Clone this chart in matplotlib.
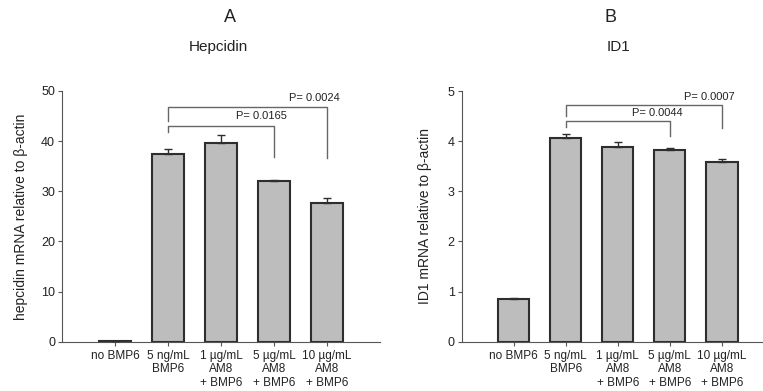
import numpy as np
import matplotlib
matplotlib.use("Agg")
import matplotlib.pyplot as plt

plt.rcParams['font.family'] = ['Liberation Sans', 'DejaVu Sans']

# categories shared by both panels
categories = ['no BMP6', '5 ng/mL\nBMP6', '1 µg/mL\nAM8\n+ BMP6',
              '5 µg/mL\nAM8\n+ BMP6', '10 µg/mL\nAM8\n+ BMP6']

# panel A - hepcidin
hepc_mean = [0.2, 37.4, 39.7, 32.0, 27.7]
hepc_err = [0.0, 1.1, 1.6, 0.15, 1.0]
hepc_pvals = ['P= 0.0165', 'P= 0.0024']

# panel B - ID1
id1_mean = [0.86, 4.07, 3.89, 3.82, 3.58]
id1_err = [0.02, 0.07, 0.09, 0.05, 0.07]
id1_pvals = ['P= 0.0044', 'P= 0.0007']

bar_col = '#bdbdbd'
edge_col = '#2e2e2e'
txt_col = '#222222'


def bracket(ax, x1, x2, y, yl, yr, lab, ty):
    ax.plot([x1, x1, x2, x2], [yl, y, y, yr], color='#666666', lw=1.0,
            clip_on=False)
    ax.text(x2 - 0.24, ty, lab, ha='center', va='center', fontsize=8,
            color=txt_col)


def panel(ax, vals, errs, ymax, ylabel):
    x = np.arange(len(vals))
    ax.bar(x, vals, width=0.6, color=bar_col, edgecolor=edge_col, lw=1.5,
           zorder=2)
    ax.errorbar(x, vals, yerr=[np.zeros(len(vals)), errs], fmt='none',
                ecolor=edge_col, elinewidth=1.0, capsize=3, capthick=1.0,
                zorder=3)
    ax.set_ylim(0, ymax)
    ax.set_yticks(np.linspace(0, ymax, 6))
    ax.set_xticks(x)
    ax.set_xticklabels(categories, fontsize=8.5, color=txt_col,
                       linespacing=1.15)
    ax.tick_params(axis='y', labelsize=9, length=3, pad=2, color='#555555')
    ax.tick_params(axis='x', length=3, color='#555555', pad=3)
    for lbl in ax.get_xticklabels() + ax.get_yticklabels():
        lbl.set_color(txt_col)
    ax.spines['top'].set_visible(False)
    ax.spines['right'].set_visible(False)
    ax.spines['left'].set_color('#555555')
    ax.spines['bottom'].set_color('#555555')
    ax.set_ylabel(ylabel, fontsize=10, color=txt_col)


fig = plt.figure(figsize=(7.63, 3.91), dpi=100)

axA = fig.add_axes([62 / 763, 1 - 341.7 / 391, (380 - 62) / 763, 250.7 / 391])
panel(axA, hepc_mean, hepc_err, 50, 'hepcidin mRNA relative to β-actin')
axA.set_xlim(-1, 5)
axA.yaxis.set_label_coords(-0.108, 0.5)
bracket(axA, 1, 3, 43.0, 41.8, 36.9, hepc_pvals[0], 45.1)
bracket(axA, 1, 4, 46.8, 44.0, 36.7, hepc_pvals[1], 48.7)

axB = fig.add_axes([461.7 / 763, 1 - 341.7 / 391, (763 - 461.7) / 763,
                    250.7 / 391])
panel(axB, id1_mean, id1_err, 5, 'ID1 mRNA relative to β-actin')
axB.set_xlim(-1, 4.79)
axB.yaxis.set_label_coords(-0.097, 0.5)
bracket(axB, 1, 3, 4.40, 4.29, 4.10, id1_pvals[0], 4.57)
bracket(axB, 1, 4, 4.72, 4.50, 4.26, id1_pvals[1], 4.89)

fig.text(230 / 763, 1 - 18 / 391, 'A', ha='center', va='center',
         fontsize=13, color=txt_col)
fig.text(218 / 763, 1 - 47 / 391, 'Hepcidin', ha='center', va='center',
         fontsize=11, color=txt_col)
fig.text(610 / 763, 1 - 18 / 391, 'B', ha='center', va='center',
         fontsize=13, color=txt_col)
fig.text(618 / 763, 1 - 47 / 391, 'ID1', ha='center', va='center',
         fontsize=11, color=txt_col)

fig.savefig('out.png', dpi=100)
